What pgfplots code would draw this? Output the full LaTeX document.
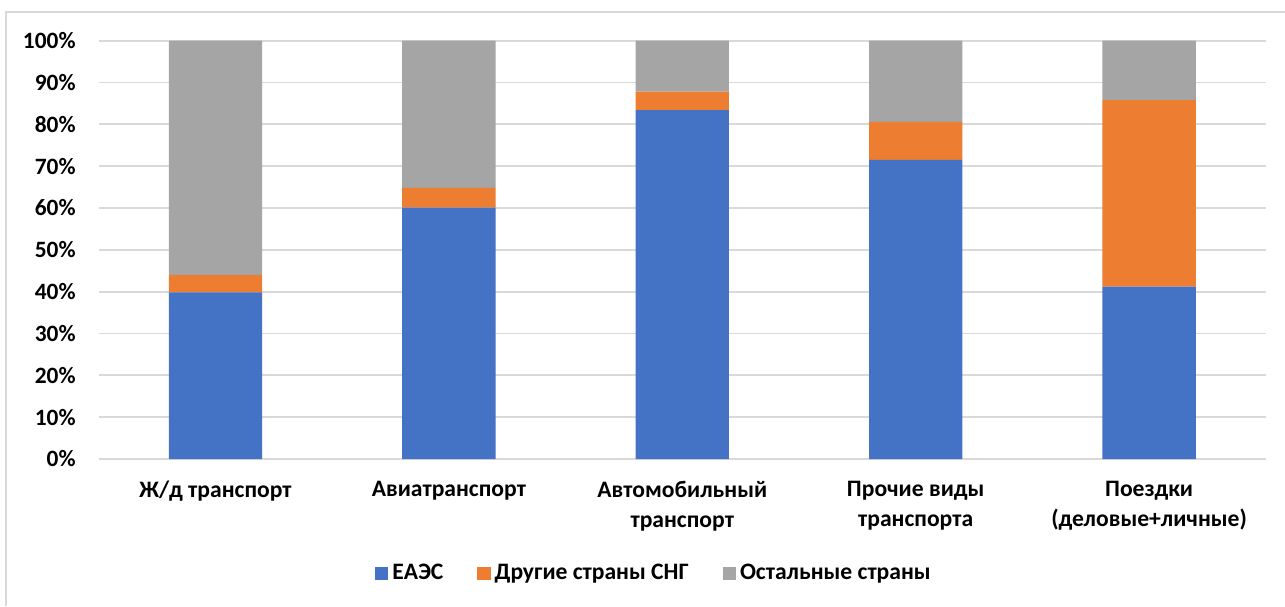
\documentclass[border=0pt]{standalone}
\usepackage{pgfplots}
\pgfplotsset{compat=1.18}
\usepackage{fontspec}
\setmainfont{Carlito}

\definecolor{eaes}{HTML}{4472C4}
\definecolor{sng}{HTML}{ED7D31}
\definecolor{other}{HTML}{A5A5A5}
\definecolor{gridgray}{HTML}{D9D9D9}

\pgfplotsset{
    sqlegend/.style={
        legend image code/.code={\fill[##1] (0pt,-3.3pt) rectangle (6.6pt,3.3pt);}
    },
}

\begin{document}
\begin{tikzpicture}
    \useasboundingbox (0,0) rectangle (642.5pt,303pt);
    % chart frame
    \draw[gridgray, line width=0.6pt] (3pt,0) -- (3pt,297pt) -- (642.5pt,297pt);
    \begin{axis}[
        at={(49.4pt,73.5pt)},
        anchor=south west,
        scale only axis,
        width=583.5pt,
        height=209.2pt,
        ybar stacked,
        bar width=0.4,
        xmin=-0.5, xmax=4.5,
        ymin=0, ymax=100,
        xtick={0,1,2,3,4},
        xticklabels={
            Ж/д транспорт,
            Авиатранспорт,
            Автомобильный\\транспорт,
            Прочие виды\\транспорта,
            Поездки\\(деловые+личные)
        },
        ytick={0,10,...,100},
        yticklabels={0\%,10\%,20\%,30\%,40\%,50\%,60\%,70\%,80\%,90\%,100\%},
        ymajorgrids,
        grid style={color=gridgray, line width=0.9pt},
        axis line style={draw=none},
        major tick length=0pt,
        yticklabel style={
            font=\fontsize{11.7}{13}\selectfont\bfseries,
            anchor=east, inner sep=0pt, xshift=-11.4pt,
        },
        xticklabel style={
            font=\fontsize{11.8}{15}\selectfont\bfseries,
            align=center, anchor=north, inner sep=0pt, yshift=-10.8pt,
        },
        legend columns=3,
        legend style={
            at={(0.4766,-0.2733)},
            anchor=center,
            draw=none,
            font=\fontsize{11.8}{13}\selectfont\bfseries,
            /tikz/every even column/.append style={column sep=15pt},
        },
        ]
        \addplot[fill=eaes, draw=none, sqlegend] coordinates {
            (0,39.8) (1,60.1) (2,83.4) (3,71.5) (4,41.2)
        };
        \addlegendentry{ЕАЭС}
        \addplot[fill=sng, draw=none, sqlegend] coordinates {
            (0,4.2) (1,4.7) (2,4.4) (3,9.1) (4,44.6)
        };
        \addlegendentry{Другие страны СНГ}
        \addplot[fill=other, draw=none, sqlegend] coordinates {
            (0,56.0) (1,35.2) (2,12.2) (3,19.4) (4,14.2)
        };
        \addlegendentry{Остальные страны}
    \end{axis}
\end{tikzpicture}
\end{document}
